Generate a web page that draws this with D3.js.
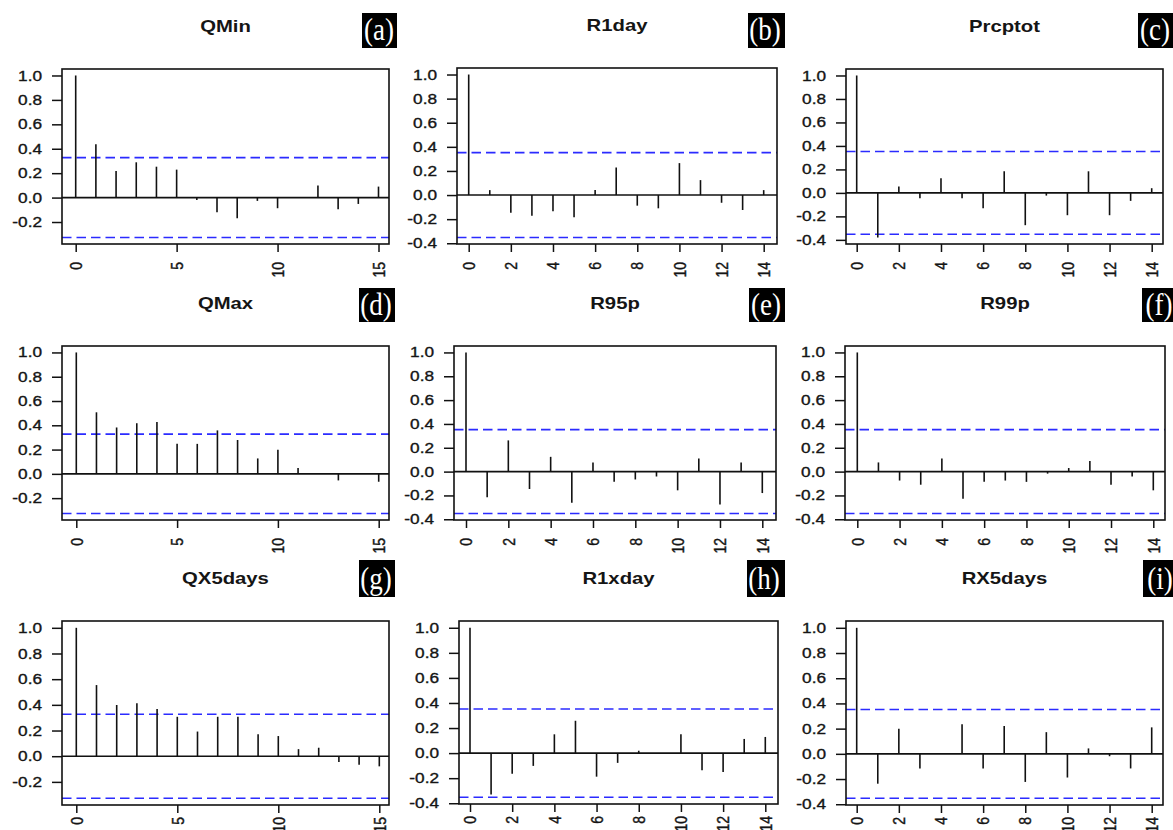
<!DOCTYPE html>
<html><head><meta charset="utf-8">
<script src="https://cdn.jsdelivr.net/npm/d3@7"></script>
<style>html,body{margin:0;padding:0;background:#fff}</style>
</head><body>
<svg id="chart" width="1173" height="830"></svg>
<script>
// ---------------- DATA ----------------
const titles = ["QMin", "R1day", "Prcptot", "QMax", "R95p", "R99p", "QX5days", "R1xday", "RX5days"];
const panelTags = ["(a)", "(b)", "(c)", "(d)", "(e)", "(f)", "(g)", "(h)", "(i)"];

const acfQMin    = [1, 0.436, 0.218, 0.289, 0.253, 0.229, -0.02, -0.12, -0.169, -0.027, -0.087, 0.0, 0.10, -0.095, -0.052, 0.09];
const acfR1day   = [1, 0.041, -0.146, -0.171, -0.135, -0.185, 0.041, 0.229, -0.088, -0.11, 0.265, 0.124, -0.064, -0.124, 0.041];
const acfPrcptot = [1, -0.38, 0.054, -0.045, 0.125, -0.045, -0.13, 0.184, -0.275, -0.023, -0.19, 0.184, -0.19, -0.068, 0.04];
const acfQMax    = [1, 0.507, 0.382, 0.417, 0.428, 0.247, 0.247, 0.358, 0.279, 0.127, 0.198, 0.049, 0.0, -0.054, 0.0, -0.065];
const acfR95p    = [1, -0.215, 0.262, -0.146, 0.124, -0.262, 0.077, -0.086, -0.066, -0.041, -0.157, 0.11, -0.276, 0.077, -0.18];
const acfR99p    = [1, 0.077, -0.075, -0.11, 0.11, -0.227, -0.086, -0.075, -0.086, -0.017, 0.03, 0.088, -0.11, -0.041, -0.157];
const acfQX5days = [1, 0.554, 0.399, 0.412, 0.367, 0.307, 0.192, 0.307, 0.307, 0.171, 0.157, 0.055, 0.066, -0.045, -0.066, -0.079];
const acfR1xday  = [1, -0.331, -0.164, -0.102, 0.15, 0.258, -0.188, -0.078, 0.019, 0.0, 0.15, -0.137, -0.15, 0.113, 0.129];
const acfRX5days = [1, -0.237, 0.199, -0.116, 0.0, 0.234, -0.116, 0.22, -0.223, 0.172, -0.188, 0.043, -0.019, -0.116, 0.21];

const confLimits = [0.327, 0.352, 0.352, 0.327, 0.352, 0.352, 0.327, 0.352, 0.352];

const xTicksQ = [0, 5, 10, 15];
const xTicksP = [0, 2, 4, 6, 8, 10, 12, 14];
const yTickValues = [-0.4, -0.2, 0.0, 0.2, 0.4, 0.6, 0.8, 1.0];

const seriesList = [acfQMin, acfR1day, acfPrcptot, acfQMax, acfR95p, acfR99p, acfQX5days, acfR1xday, acfRX5days];
const xTickList = [xTicksQ, xTicksP, xTicksP, xTicksQ, xTicksP, xTicksP, xTicksQ, xTicksP, xTicksP];

// ---------------- LAYOUT ----------------
// plot box [left, top, right, bottom], pixel of first & last lag, x-label offset
const boxes = [
  [62, 69, 389, 244], [457, 68, 777, 244], [846, 69, 1163, 244],
  [62, 346, 389, 520], [454, 346, 776, 520], [845, 346, 1165, 520],
  [62, 621, 389, 805], [459, 621, 778, 804], [846, 621, 1163, 805]
];
const lagPix = [
  [75.7, 378.5], [468.7, 763.7], [856.7, 1151.7],
  [76.3, 378.7], [466, 762.3], [857.3, 1153.3],
  [76.3, 379.3], [470, 765.3], [856.7, 1151.7]
];
const xLabelOffset = [18, 18, 18, 18, 18, 18, 12, 12, 12];
const tagBoxes = [
  [362, 13, 35, 35], [748, 13, 37, 35], [1138, 13, 36, 35],
  [359, 288, 36, 34], [749, 288, 36, 34], [1142, 288, 32, 34],
  [359, 560, 36, 37], [747, 560, 38, 37], [1143, 560, 31, 37]
];

const SX = 1.23;              // horizontal stretch of the original figure text
const font = "'Liberation Sans', Arial, sans-serif";
const textColor = "#151515";

const svg = d3.select("#chart");
svg.append("rect").attr("width", 1173).attr("height", 830).attr("fill", "#fff");

const fmt = v => d3.format(".1f")(v).replace("\u2212", "-");

seriesList.forEach((acf, i) => {
  const [L, T, R, B] = boxes[i];
  const clim = confLimits[i];
  const maxLag = acf.length - 1;
  const lo = Math.min(-clim, d3.min(acf));
  const hi = Math.max(clim, d3.max(acf));
  const ext = 0.04 * (hi - lo);

  const x = d3.scaleLinear().domain([0, maxLag]).range(lagPix[i]);
  const y = d3.scaleLinear().domain([lo - ext, hi + ext]).range([B, T]);

  const g = svg.append("g");

  // confidence lines
  [clim, -clim].forEach(c => {
    g.append("line")
      .attr("x1", L).attr("x2", R)
      .attr("y1", y(c)).attr("y2", y(c))
      .attr("stroke", "#2b2bff").attr("stroke-width", 1.6)
      .attr("stroke-dasharray", "9.5,5");
  });

  // zero line
  g.append("line").attr("x1", L).attr("x2", R)
    .attr("y1", y(0)).attr("y2", y(0))
    .attr("stroke", "#111").attr("stroke-width", 1.6);

  // spikes
  g.selectAll("line.spike").data(acf).enter().append("line")
    .attr("class", "spike")
    .attr("x1", (d, k) => x(k)).attr("x2", (d, k) => x(k))
    .attr("y1", y(0)).attr("y2", d => y(d))
    .attr("stroke", "#111").attr("stroke-width", 1.6);

  // box
  g.append("rect").attr("x", L).attr("y", T)
    .attr("width", R - L).attr("height", B - T)
    .attr("fill", "none").attr("stroke", "#111").attr("stroke-width", 1.6);

  // y axis
  const yt = yTickValues.filter(v => v >= y.domain()[0] && v <= y.domain()[1]);
  const yAxis = d3.axisLeft(y).tickValues(yt).tickSize(10).tickFormat("");
  const ya = g.append("g").attr("transform", `translate(${L},0)`).call(yAxis);
  ya.select(".domain").remove();
  ya.selectAll(".tick line").attr("stroke", "#111").attr("stroke-width", 1.5);
  yt.forEach(v => {
    g.append("text")
      .attr("transform", `translate(${L - 20},${y(v)}) scale(${SX},1)`)
      .attr("text-anchor", "end").attr("dy", "0.36em")
      .attr("font-family", font).attr("font-size", 14)
      .attr("fill", textColor).attr("stroke", textColor).attr("stroke-width", 0.35)
      .text(fmt(v));
  });

  // x axis
  const xt = xTickList[i];
  const xAxis = d3.axisBottom(x).tickValues(xt).tickSize(8).tickFormat("");
  const xa = g.append("g").attr("transform", `translate(0,${B})`).call(xAxis);
  xa.select(".domain").remove();
  xa.selectAll(".tick line").attr("stroke", "#111").attr("stroke-width", 1.5);
  xt.forEach(v => {
    g.append("text")
      .attr("transform", `translate(${x(v)},${B + xLabelOffset[i]}) scale(${SX},1) rotate(-90)`)
      .attr("text-anchor", "end").attr("dy", "0.36em")
      .attr("font-family", font).attr("font-size", 14)
      .attr("fill", textColor).attr("stroke", textColor).attr("stroke-width", 0.35)
      .text(v);
  });

  // title
  svg.append("text")
    .attr("transform", `translate(${(L + R) / 2},${T - 37}) scale(${SX},1)`)
    .attr("text-anchor", "middle")
    .attr("font-family", font).attr("font-size", 16.5).attr("font-weight", "bold")
    .attr("fill", textColor)
    .text(titles[i]);

  // panel tag
  const [tx, ty, tw, th] = tagBoxes[i];
  svg.append("rect").attr("x", tx).attr("y", ty).attr("width", tw).attr("height", th).attr("fill", "#000");
  svg.append("text")
    .attr("transform", `translate(${tx + 17},${ty + th * 0.78}) scale(1,1.2)`)
    .attr("text-anchor", "middle")
    .attr("font-family", "'Liberation Serif', 'Times New Roman', serif")
    .attr("font-size", 27).attr("fill", "#fff")
    .text(panelTags[i]);
});
</script>
</body></html>
